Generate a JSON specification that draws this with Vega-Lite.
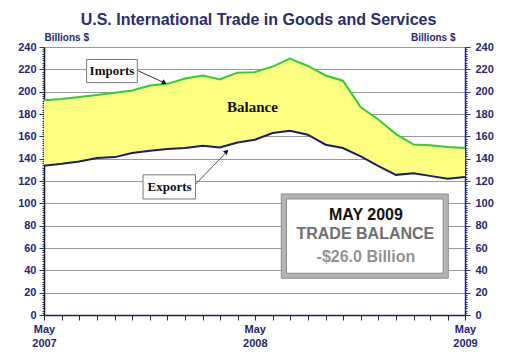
{
  "$schema": "https://vega.github.io/schema/vega-lite/v6.json",
  "width": 421,
  "height": 268,
  "autosize": "none",
  "padding": {"left": 44, "top": 47, "right": 53, "bottom": 42},
  "background": "white",
  "title": {
    "text": "U.S. International Trade in Goods and Services",
    "font": "Liberation Sans",
    "fontSize": 16,
    "fontWeight": "bold",
    "color": "#2b2b6e",
    "anchor": "middle",
    "frame": "group",
    "baseline": "alphabetic",
    "offset": -9,
    "dx": 4
  },
  "config": {"view": {"stroke": null}},
  "data": {
    "values": [
      {"date": "2007-05-01", "imports": 192.3, "exports": 133.6},
      {"date": "2007-06-01", "imports": 193.5, "exports": 135.4},
      {"date": "2007-07-01", "imports": 195.3, "exports": 137.5},
      {"date": "2007-08-01", "imports": 197.0, "exports": 140.5},
      {"date": "2007-09-01", "imports": 199.0, "exports": 141.4},
      {"date": "2007-10-01", "imports": 201.0, "exports": 145.0},
      {"date": "2007-11-01", "imports": 205.5, "exports": 147.0},
      {"date": "2007-12-01", "imports": 207.0, "exports": 148.6},
      {"date": "2008-01-01", "imports": 211.8, "exports": 149.5},
      {"date": "2008-02-01", "imports": 214.5, "exports": 151.5},
      {"date": "2008-03-01", "imports": 211.0, "exports": 150.0},
      {"date": "2008-04-01", "imports": 217.0, "exports": 154.5},
      {"date": "2008-05-01", "imports": 217.5, "exports": 157.0},
      {"date": "2008-06-01", "imports": 222.5, "exports": 163.0},
      {"date": "2008-07-01", "imports": 229.7, "exports": 165.0},
      {"date": "2008-08-01", "imports": 223.0, "exports": 161.5},
      {"date": "2008-09-01", "imports": 214.5, "exports": 152.5},
      {"date": "2008-10-01", "imports": 209.8, "exports": 149.5},
      {"date": "2008-11-01", "imports": 186.0, "exports": 142.0},
      {"date": "2008-12-01", "imports": 175.3, "exports": 133.6},
      {"date": "2009-01-01", "imports": 162.0, "exports": 125.5},
      {"date": "2009-02-01", "imports": 152.6, "exports": 127.0},
      {"date": "2009-03-01", "imports": 152.0, "exports": 124.6},
      {"date": "2009-04-01", "imports": 150.4, "exports": 122.0},
      {"date": "2009-05-01", "imports": 149.5, "exports": 123.5}
    ]
  },
  "resolve": {"axis": {"x": "independent", "y": "independent"}},
  "layer": [
    {
      "mark": {"type": "area", "color": "#ffff80", "opacity": 1},
      "encoding": {
        "x": {
          "field": "date",
          "type": "temporal",
          "scale": {"type": "utc", "domain": [{"year": 2007, "month": 5, "date": 1, "utc": true}, {"year": 2009, "month": 5, "date": 1, "utc": true}]},
          "axis": {
            "title": null,
            "orient": "bottom",
            "tickCount": {"interval": "month", "step": 1},
            "labelExpr": "utcFormat(datum.value, '%m') == '05' ? [utcFormat(datum.value, '%b'), utcFormat(datum.value, '%Y')] : ''",
            "labelFont": "Liberation Sans",
            "labelFontSize": 11,
            "labelFontWeight": "bold",
            "labelColor": "#262673",
            "labelLineHeight": 14,
            "labelOverlap": false,
            "labelFlush": false,
            "labelBound": false,
            "labelPadding": 3,
            "tickSize": 5,
            "tickColor": "#222244",
            "domainColor": "#222244",
            "domainWidth": 1.5,
            "grid": false
          }
        },
        "y": {
          "field": "imports",
          "type": "quantitative",
          "scale": {"domain": [0, 240], "nice": false, "zero": true},
          "axis": {
            "orient": "left",
            "title": "Billions $",
            "titleAngle": 0,
            "titleAlign": "left",
            "titleX": 0,
            "titleY": -7,
            "titleBaseline": "alphabetic",
            "titleFont": "Liberation Sans",
            "titleFontSize": 10,
            "titleFontWeight": "bold",
            "titleColor": "#262673",
            "values": [0,2,4,6,8,10,12,14,16,18,20,22,24,26,28,30,32,34,36,38,40,42,44,46,48,50,52,54,56,58,60,62,64,66,68,70,72,74,76,78,80,82,84,86,88,90,92,94,96,98,100,102,104,106,108,110,112,114,116,118,120,122,124,126,128,130,132,134,136,138,140,142,144,146,148,150,152,154,156,158,160,162,164,166,168,170,172,174,176,178,180,182,184,186,188,190,192,194,196,198,200,202,204,206,208,210,212,214,216,218,220,222,224,226,228,230,232,234,236,238,240],
            "labelExpr": "datum.value % 20 === 0 ? datum.label : ''",
            "labelOverlap": false,
            "labelFont": "Liberation Sans",
            "labelFontSize": 11,
            "labelFontWeight": "bold",
            "labelColor": "#262673",
            "labelPadding": 3,
            "tickSize": {"condition": {"test": "datum.value % 20 === 0", "value": 5}, "value": 2},
            "tickColor": "#333355",
            "domainColor": "#1a1a40",
            "domainWidth": 1.5,
            "grid": true,
            "gridColor": "#999999",
            "gridOpacity": {"condition": {"test": "datum.value % 20 === 0 && datum.value > 0", "value": 1}, "value": 0}
          }
        },
        "y2": {"field": "exports"}
      }
    },
    {
      "mark": {"type": "line", "color": "#33cc33", "strokeWidth": 2},
      "encoding": {
        "x": {"field": "date", "type": "temporal", "axis": null},
        "y": {
          "field": "imports",
          "type": "quantitative",
          "axis": {
            "orient": "right",
            "title": "Billions $",
            "titleAngle": 0,
            "titleAlign": "right",
            "titleX": -10,
            "titleY": -7,
            "titleBaseline": "alphabetic",
            "titleFont": "Liberation Sans",
            "titleFontSize": 10,
            "titleFontWeight": "bold",
            "titleColor": "#262673",
            "values": [0,2,4,6,8,10,12,14,16,18,20,22,24,26,28,30,32,34,36,38,40,42,44,46,48,50,52,54,56,58,60,62,64,66,68,70,72,74,76,78,80,82,84,86,88,90,92,94,96,98,100,102,104,106,108,110,112,114,116,118,120,122,124,126,128,130,132,134,136,138,140,142,144,146,148,150,152,154,156,158,160,162,164,166,168,170,172,174,176,178,180,182,184,186,188,190,192,194,196,198,200,202,204,206,208,210,212,214,216,218,220,222,224,226,228,230,232,234,236,238,240],
            "labelExpr": "datum.value % 20 === 0 ? datum.label : ''",
            "labelOverlap": false,
            "labelFont": "Liberation Sans",
            "labelFontSize": 11,
            "labelFontWeight": "bold",
            "labelColor": "#262673",
            "labelPadding": 5,
            "tickSize": {"condition": {"test": "datum.value % 20 === 0", "value": 5}, "value": 2},
            "tickColor": "#333388",
            "domainColor": "#262680",
            "domainWidth": 1.5,
            "grid": false
          }
        }
      }
    },
    {
      "mark": {"type": "line", "color": "#1c1c6b", "strokeWidth": 2},
      "encoding": {
        "x": {"field": "date", "type": "temporal", "axis": null},
        "y": {"field": "exports", "type": "quantitative", "axis": null}
      }
    },
    {
      "data": {"values": [{}]},
      "mark": {"type": "rect", "fill": "#b4b4b4", "stroke": "#8c8c8c", "strokeWidth": 1},
      "encoding": {
        "x": {"datum": {"year": 2008, "month": 6, "date": 16, "utc": true}, "type": "temporal", "axis": null},
        "x2": {"datum": {"year": 2009, "month": 4, "date": 2, "utc": true}},
        "y": {"datum": 108.4, "type": "quantitative", "axis": null},
        "y2": {"datum": 32.9}
      }
    },
    {
      "data": {"values": [{}]},
      "mark": {"type": "rect", "fill": "white", "stroke": "#8a8a8a", "strokeWidth": 1},
      "encoding": {
        "x": {"datum": {"year": 2008, "month": 6, "date": 25, "utc": true}, "type": "temporal", "axis": null},
        "x2": {"datum": {"year": 2009, "month": 3, "date": 24, "utc": true}},
        "y": {"datum": 103.9, "type": "quantitative", "axis": null},
        "y2": {"datum": 37.4}
      }
    },
    {
      "data": {"values": [{}]},
      "mark": {"type": "text", "text": "MAY 2009", "font": "Liberation Sans", "fontSize": 16, "fontWeight": "bold", "color": "#111111", "align": "center", "baseline": "middle"},
      "encoding": {
        "x": {"datum": {"year": 2008, "month": 11, "date": 10, "utc": true}, "type": "temporal", "axis": null},
        "y": {"datum": 89.5, "type": "quantitative", "axis": null}
      }
    },
    {
      "data": {"values": [{}]},
      "mark": {"type": "text", "text": "TRADE BALANCE", "font": "Liberation Sans", "fontSize": 16, "fontWeight": "bold", "color": "#6e6e6e", "align": "center", "baseline": "middle"},
      "encoding": {
        "x": {"datum": {"year": 2008, "month": 11, "date": 9, "utc": true}, "type": "temporal", "axis": null},
        "y": {"datum": 72.4, "type": "quantitative", "axis": null}
      }
    },
    {
      "data": {"values": [{}]},
      "mark": {"type": "text", "text": "-$26.0 Billion", "font": "Liberation Sans", "fontSize": 16, "fontWeight": "bold", "color": "#929292", "align": "center", "baseline": "middle"},
      "encoding": {
        "x": {"datum": {"year": 2008, "month": 11, "date": 10, "utc": true}, "type": "temporal", "axis": null},
        "y": {"datum": 51.8, "type": "quantitative", "axis": null}
      }
    },
    {
      "data": {"values": [{}]},
      "mark": {"type": "rule", "color": "#333333", "strokeWidth": 1},
      "encoding": {
        "x": {"datum": {"year": 2007, "month": 10, "date": 10, "utc": true}, "type": "temporal", "axis": null},
        "x2": {"datum": {"year": 2007, "month": 11, "date": 28, "utc": true}},
        "y": {"datum": 219, "type": "quantitative", "axis": null},
        "y2": {"datum": 207.5}
      }
    },
    {
      "data": {"values": [{}]},
      "mark": {"type": "point", "shape": "triangle-up", "filled": true, "color": "#111111", "size": 30, "angle": 115, "opacity": 1},
      "encoding": {
        "x": {"datum": {"year": 2007, "month": 11, "date": 26, "utc": true}, "type": "temporal", "axis": null},
        "y": {"datum": 208, "type": "quantitative", "axis": null}
      }
    },
    {
      "data": {"values": [{}]},
      "mark": {"type": "rect", "fill": "white", "stroke": "#777777", "strokeWidth": 1},
      "encoding": {
        "x": {"datum": {"year": 2007, "month": 7, "date": 14, "utc": true}, "type": "temporal", "axis": null},
        "x2": {"datum": {"year": 2007, "month": 10, "date": 10, "utc": true}},
        "y": {"datum": 228.8, "type": "quantitative", "axis": null},
        "y2": {"datum": 208.1}
      }
    },
    {
      "data": {"values": [{}]},
      "mark": {"type": "text", "text": "Imports", "font": "Liberation Serif", "fontSize": 13, "fontWeight": "bold", "color": "#111111", "align": "center", "baseline": "middle"},
      "encoding": {
        "x": {"datum": {"year": 2007, "month": 8, "date": 27, "utc": true}, "type": "temporal", "axis": null},
        "y": {"datum": 218.5, "type": "quantitative", "axis": null}
      }
    },
    {
      "data": {"values": [{}]},
      "mark": {"type": "rule", "color": "#555555", "strokeWidth": 1},
      "encoding": {
        "x": {"datum": {"year": 2008, "month": 1, "date": 19, "utc": true}, "type": "temporal", "axis": null},
        "x2": {"datum": {"year": 2008, "month": 3, "date": 15, "utc": true}},
        "y": {"datum": 117, "type": "quantitative", "axis": null},
        "y2": {"datum": 147}
      }
    },
    {
      "data": {"values": [{}]},
      "mark": {"type": "point", "shape": "triangle-up", "filled": true, "color": "#111111", "size": 30, "angle": 45, "opacity": 1},
      "encoding": {
        "x": {"datum": {"year": 2008, "month": 3, "date": 13, "utc": true}, "type": "temporal", "axis": null},
        "y": {"datum": 146.5, "type": "quantitative", "axis": null}
      }
    },
    {
      "data": {"values": [{}]},
      "mark": {"type": "rect", "fill": "white", "stroke": "#777777", "strokeWidth": 1},
      "encoding": {
        "x": {"datum": {"year": 2007, "month": 10, "date": 20, "utc": true}, "type": "temporal", "axis": null},
        "x2": {"datum": {"year": 2008, "month": 1, "date": 19, "utc": true}},
        "y": {"datum": 125.5, "type": "quantitative", "axis": null},
        "y2": {"datum": 103.9}
      }
    },
    {
      "data": {"values": [{}]},
      "mark": {"type": "text", "text": "Exports", "font": "Liberation Serif", "fontSize": 13, "fontWeight": "bold", "color": "#111111", "align": "center", "baseline": "middle"},
      "encoding": {
        "x": {"datum": {"year": 2007, "month": 12, "date": 5, "utc": true}, "type": "temporal", "axis": null},
        "y": {"datum": 114.5, "type": "quantitative", "axis": null}
      }
    },
    {
      "data": {"values": [{}]},
      "mark": {"type": "text", "text": "Balance", "font": "Liberation Serif", "fontSize": 15, "fontWeight": "bold", "color": "#111111", "align": "center", "baseline": "middle"},
      "encoding": {
        "x": {"datum": {"year": 2008, "month": 4, "date": 27, "utc": true}, "type": "temporal", "axis": null},
        "y": {"datum": 186.6, "type": "quantitative", "axis": null}
      }
    }
  ]
}
